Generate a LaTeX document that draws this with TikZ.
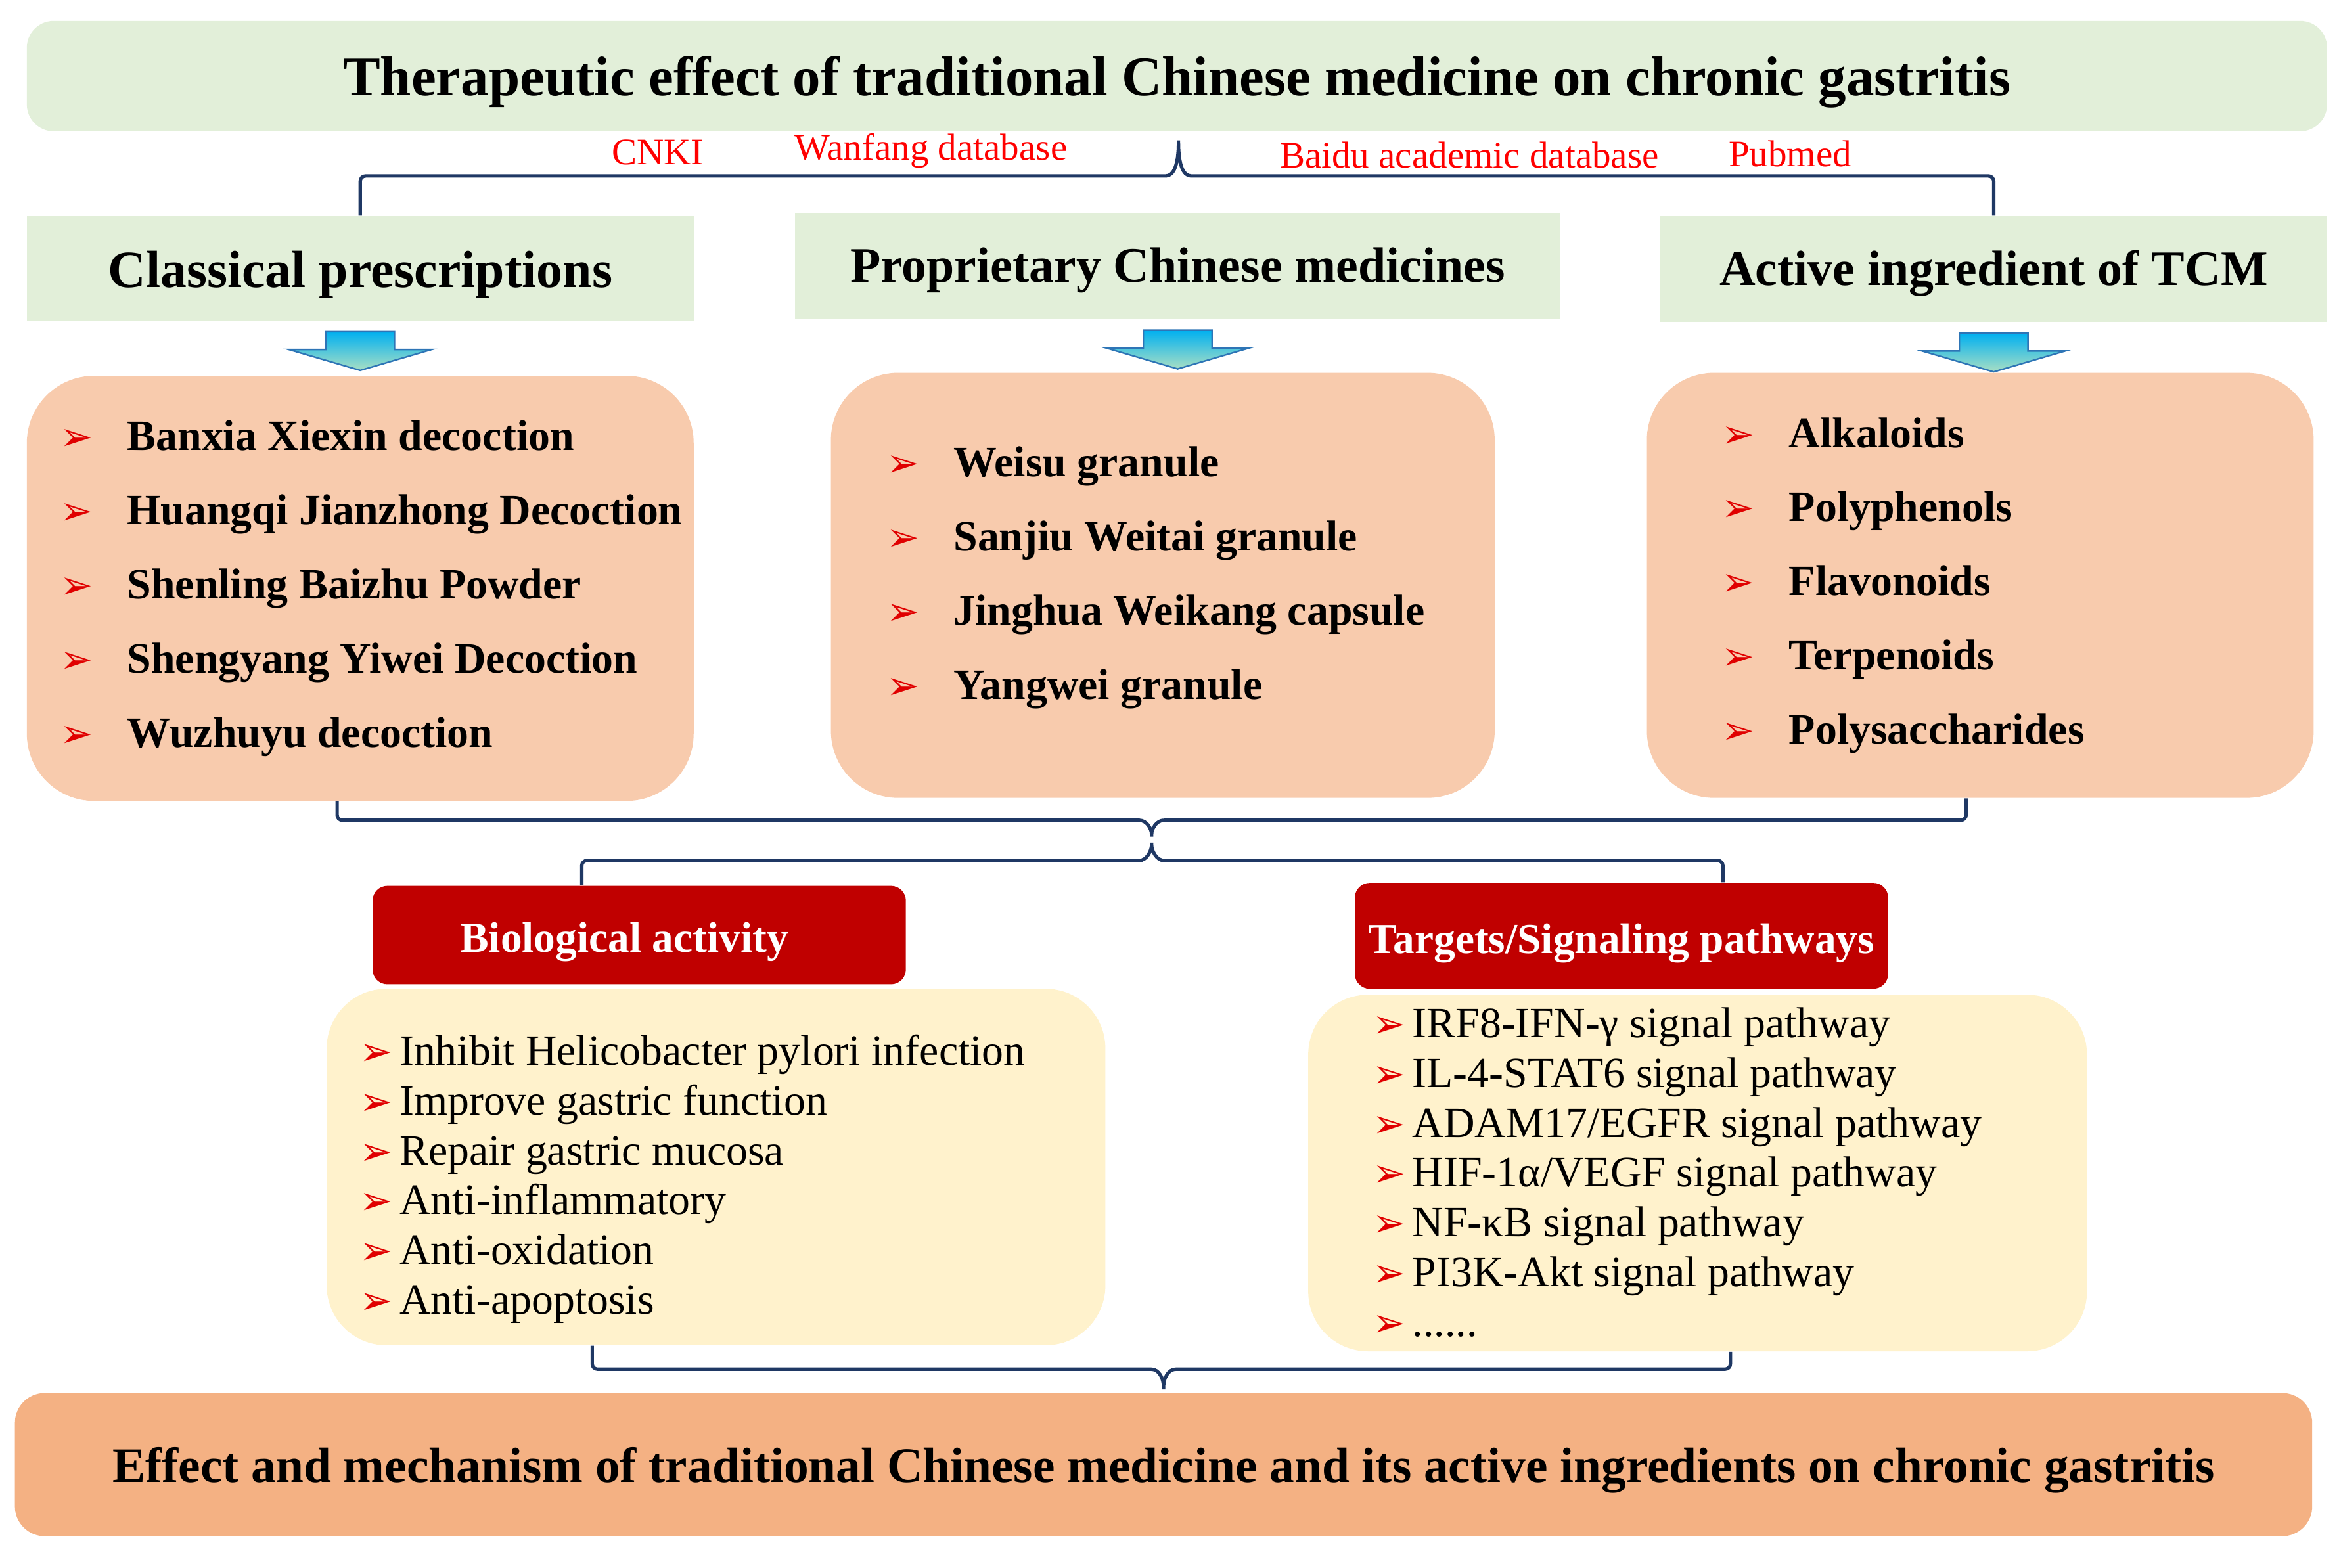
\documentclass[tikz,border=0pt]{standalone}
\usepackage{fontspec}
\setmainfont{Liberation Serif}
\newfontfamily\dingfont{DejaVu Sans}
\usepackage{tikz}
\usetikzlibrary{calc,positioning}
\definecolor{Leaf}{HTML}{E2EFD9}
\definecolor{Peach}{HTML}{F8CBAD}
\definecolor{Crimson}{HTML}{C00000}
\definecolor{Cream}{HTML}{FFF2CC}
\definecolor{Salmon}{HTML}{F4B183}
\definecolor{Navy}{HTML}{1F3864}
\definecolor{SkyTop}{HTML}{00B0F0}
\definecolor{Mint}{HTML}{A9DFC4}
\definecolor{Steel}{HTML}{2E75B6}
\definecolor{Alert}{HTML}{FF0000}
\definecolor{Bullet}{HTML}{E00000}
\newcommand{\bul}[1]{{\dingfont\fontsize{15}{15}\selectfont\color{Bullet}➢}\hspace{#1}}

\begin{document}
\begin{tikzpicture}[x=0.2mm,y=-0.2mm,
    every node/.style={align=center},
    greenbox/.style={fill=Leaf,text height=12.3pt,text depth=0pt,minimum width=89.4mm,minimum height=14.2mm,font=\fontsize{19}{22}\selectfont\bfseries},
    peachbox/.style={fill=Peach,rounded corners=9mm,minimum width=89.4mm,minimum height=57mm},
    redbox/.style={fill=Crimson,text height=13.2pt,text depth=0pt,rounded corners=2mm,text=white,minimum width=71.5mm,font=\fontsize{16.4}{19}\selectfont\bfseries},
    creambox/.style={fill=Cream,rounded corners=8mm,minimum width=104.4mm,minimum height=47.8mm},
    boldlist/.style={anchor=west,align=left,inner sep=0pt,font=\fontsize{16.5}{28.3}\selectfont\bfseries},
    plainlist/.style={anchor=west,align=left,inner sep=0pt,font=\fontsize{16.5}{19}\selectfont},
    source/.style={text=Alert,font=\fontsize{14.3}{17}\selectfont},
    brace/.style={draw=Navy,line width=1.3pt,rounded corners=2pt},
    downarrow/.style={draw=Steel,line width=0.6pt,top color=SkyTop,bottom color=Mint}]
  \useasboundingbox (0,0) rectangle (1568,1051);

  % top level
  \node[fill=Leaf,text height=15.1pt,text depth=0pt,rounded corners=3.6mm,minimum width=308.4mm,minimum height=14.8mm,font=\fontsize{21.3}{25}\selectfont\bfseries] (title) at (789,51) {Therapeutic effect of traditional Chinese medicine on chronic gastritis};
  \node[source] (cnki) at (441,102) {CNKI};
  \node[source] (wanfang) at (624,101) {Wanfang database};
  \node[source] (baidu) at (985,104) {Baidu academic database};
  \node[source] (pubmed) at (1200,103) {Pubmed};

  \node[greenbox,minimum height=14mm,text height=14.3pt,font=\fontsize{20}{23}\selectfont\bfseries] (cls) at (241.5,180) {Classical prescriptions};
  \node[greenbox,minimum width=102.6mm] (pcm) at (789.5,178.5) {Proprietary Chinese medicines};
  \node[greenbox] (act) at (1336.5,180.5) {Active ingredient of TCM};

  \draw[brace] (cls.north) -- (cls.north |- 0,118) -- (778,118) .. controls (787,118) and (790,110) .. (790,92) .. controls (790,110) and (793,118) .. (802,118) -- (act.north |- 0,118) -- (act.north);

  \foreach \n in {cls,pcm,act}
    \path[downarrow] ($(\n.south)+(-23,7)$) -- ++(46,0) -- ++(0,12) -- ++(25,0) -- ++(-48,14) -- ++(-48,-14) -- ++(25,0) -- cycle;

  % three lists
  \node[peachbox] (cp) at (241.5,394.5) {};
  \node[peachbox,minimum width=89mm] (pm) at (779.5,392.5) {};
  \node[peachbox] (ai) at (1327.5,392.5) {};
  \node[boldlist] (cplist) at (40,394.5) {\bul{13pt}Banxia Xiexin decoction\\\bul{13pt}Huangqi Jianzhong Decoction\\\bul{13pt}Shenling Baizhu Powder\\\bul{13pt}Shengyang Yiwei Decoction\\\bul{13pt}Wuzhuyu decoction};
  \node[boldlist] (pmlist) at (594,387.5) {\bul{13pt}Weisu granule\\\bul{13pt}Sanjiu Weitai granule\\\bul{13pt}Jinghua Weikang capsule\\\bul{13pt}Yangwei granule};
  \node[boldlist] (ailist) at (1154,392.5) {\bul{13pt}Alkaloids\\\bul{13pt}Polyphenols\\\bul{13pt}Flavonoids\\\bul{13pt}Terpenoids\\\bul{13pt}Polysaccharides};

  % biological activity / pathways
  \node[redbox,minimum height=13.2mm] (bio) at (428.5,627) {Biological activity\kern11.4pt};
  \node[redbox,minimum height=14.2mm,text height=13.4pt] (tgt) at (1087,627.5) {Targets/Signaling pathways};

  \draw[brace] (226,0 |- cp.south) -- (226,550) -- (760,550) .. controls (769,550) and (772,556) .. (772,563) .. controls (772,556) and (775,550) .. (784,550) -- (1318,550) -- (1318,0 |- ai.south);
  \draw[brace] (390,0 |- bio.north) -- (390,577) -- (760,577) .. controls (769,577) and (772,570) .. (772,563) .. controls (772,570) and (775,577) .. (784,577) -- (1155,577) -- (1155,0 |- tgt.north);

  \node[creambox] (bact) at (480,782.5) {};
  \node[creambox] (path) at (1138,786.5) {};
  \node[plainlist] (bactlist) at (241,790.5) {\bul{2.5pt}Inhibit Helicobacter pylori infection\\\bul{2.5pt}Improve gastric function\\\bul{2.5pt}Repair gastric mucosa\\\bul{2.5pt}Anti-inflammatory\\\bul{2.5pt}Anti-oxidation\\\bul{2.5pt}Anti-apoptosis};
  \node[plainlist] (pathlist) at (920,786) {\bul{2.5pt}IRF8-IFN-γ signal pathway\\\bul{2.5pt}IL-4-STAT6 signal pathway\\\bul{2.5pt}ADAM17/EGFR signal pathway\\\bul{2.5pt}HIF-1α/VEGF signal pathway\\\bul{2.5pt}NF-κB signal pathway\\\bul{2.5pt}PI3K-Akt signal pathway\\\bul{2.5pt}......};

  % conclusion
  \node[fill=Salmon,text height=13.6pt,text depth=0pt,rounded corners=4mm,minimum width=308mm,minimum height=19.2mm,font=\fontsize{18.9}{22}\selectfont\bfseries] (eff) at (780,982) {Effect and mechanism of traditional Chinese medicine and its active ingredients on chronic gastritis};
  \draw[brace] (397,0 |- bact.south) -- (397,918) -- (768,918) .. controls (777,918) and (780,924) .. (eff.north) .. controls (780,924) and (783,918) .. (792,918) -- (1160,918) -- (1160,0 |- path.south);
\end{tikzpicture}
\end{document}
